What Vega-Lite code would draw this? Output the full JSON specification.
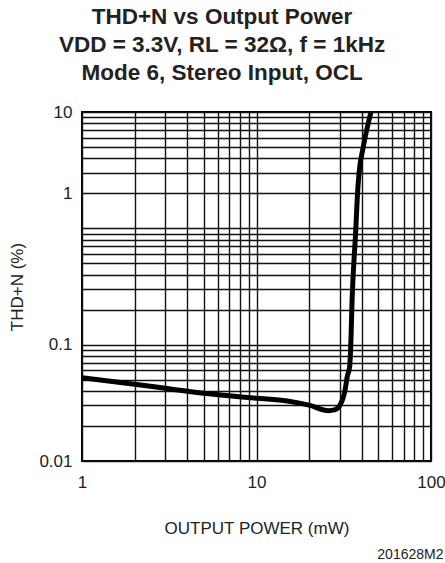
{
  "$schema": "https://vega.github.io/schema/vega-lite/v6.json",
  "width": 349,
  "height": 349,
  "padding": {"left": 8, "top": 5, "right": 0, "bottom": 0},
  "background": "white",
  "config": {
    "font": "Liberation Sans",
    "view": {"stroke": "black", "strokeWidth": 2}
  },
  "title": {
    "text": ["THD+N vs Output Power", "VDD = 3.3V, RL = 32Ω, f = 1kHz", "Mode 6, Stereo Input, OCL"],
    "font": "Liberation Sans",
    "fontSize": 22.5,
    "fontWeight": "bold",
    "lineHeight": 28,
    "color": "#222",
    "anchor": "middle",
    "frame": "bounds",
    "dx": -5,
    "offset": 19
  },
  "data": {
    "values": [
      {"power": 1, "thdn": 0.052},
      {"power": 2, "thdn": 0.0457},
      {"power": 3, "thdn": 0.0422},
      {"power": 5, "thdn": 0.0382},
      {"power": 10, "thdn": 0.0346},
      {"power": 15, "thdn": 0.0328},
      {"power": 20, "thdn": 0.0302},
      {"power": 25.9, "thdn": 0.0271},
      {"power": 28, "thdn": 0.0275},
      {"power": 30, "thdn": 0.030},
      {"power": 32.2, "thdn": 0.041},
      {"power": 33.1, "thdn": 0.053},
      {"power": 34.2, "thdn": 0.065},
      {"power": 34.7, "thdn": 0.1},
      {"power": 35.3, "thdn": 0.24},
      {"power": 37.1, "thdn": 1.0},
      {"power": 37.9, "thdn": 1.97},
      {"power": 38.7, "thdn": 2.98},
      {"power": 40.8, "thdn": 4.9},
      {"power": 45.3, "thdn": 10}
    ]
  },
  "layer": [
    {
      "mark": {"type": "line", "color": "black", "strokeWidth": 5, "interpolate": "monotone", "clip": true},
      "encoding": {
        "x": {
          "field": "power", "type": "quantitative",
          "scale": {"type": "log", "domain": [1, 100], "nice": false},
          "axis": {
            "values": [1,2,3,4,5,6,7,8,9,10,20,30,40,50,60,70,80,90,100],
            "labelExpr": "datum.value == 1 || datum.value == 10 || datum.value == 100 ? datum.label : ''",
            "format": "d",
            "grid": true, "gridColor": "#111", "gridWidth": 1.4, "gridOpacity": 1,
            "domain": false, "ticks": false,
            "labelFontSize": 17, "labelColor": "#222", "labelPadding": 13,
            "labelFlush": false,
            "title": "OUTPUT POWER (mW)", "titleFontSize": 17, "titleFontWeight": "normal",
            "titleColor": "#222", "titleBaseline": "alphabetic", "titleY": 72
          }
        },
        "y": {
          "field": "thdn", "type": "quantitative",
          "scale": {"type": "log", "domain": [0.01, 10], "nice": false},
          "axis": {
            "values": [0.01,0.02,0.03,0.04,0.05,0.06,0.07,0.08,0.09,0.1,0.2,0.3,0.4,0.5,0.6,0.7,0.8,0.9,1,2,3,4,5,6,7,8,9,10],
            "labelExpr": "datum.value == 0.01 ? '0.01' : datum.value == 0.1 ? '0.1' : datum.value == 2 ? '1' : datum.value == 10 ? '10' : ''",
            "grid": true, "gridColor": "#111", "gridWidth": 1.4, "gridOpacity": 1,
            "domain": false, "ticks": false,
            "labelFontSize": 17, "labelColor": "#222", "labelPadding": 10,
            "labelFlush": false,
            "title": "THD+N (%)", "titleFontSize": 17, "titleFontWeight": "normal",
            "titleColor": "#222", "titlePadding": 12
          }
        }
      }
    },
    {
      "mark": {"type": "line", "opacity": 0},
      "encoding": {
        "x": {
          "field": "power", "type": "quantitative",
          "scale": {"type": "log", "domain": [1, 100], "nice": false},
          "axis": {
            "orient": "bottom", "offset": 0,
            "domain": false, "ticks": false, "labels": false, "grid": false,
            "title": "201628M2", "titleFontSize": 14, "titleFontWeight": "normal",
            "titleColor": "#222", "titleBaseline": "alphabetic", "titleY": 97, "titleX": 361, "titleAlign": "right"
          }
        },
        "y": {"field": "thdn", "type": "quantitative"}
      }
    }
  ],
  "resolve": {"axis": {"x": "independent"}}
}
